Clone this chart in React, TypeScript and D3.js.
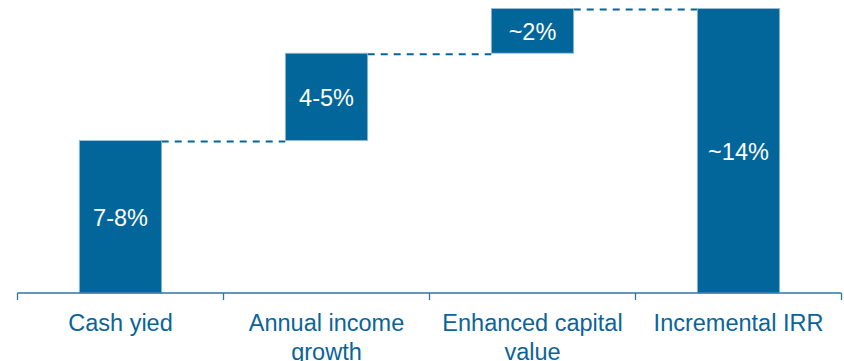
import React, { useEffect, useRef } from "react";
import * as d3 from "d3";

const categories = ["Cash yied", "Annual income growth", "Enhanced capital value", "Incremental IRR"];
const values = [7.5, 4.3, 2.2, 14];
const isTotal = [false, false, false, true];
const barLabels = ["7-8%", "4-5%", "~2%", "~14%"];
const yDomain = [0, 14];

const W = 844;
const H = 361;
const BLUE = "#02669a";

export default function App() {
  const ref = useRef<SVGSVGElement | null>(null);

  useEffect(() => {
    const svg = d3.select(ref.current);
    svg.selectAll("*").remove();

    const left = 17.5;
    const right = 841.5;
    const axisY = 293;
    const top = 8.5;

    const outer = d3.scaleBand<string>().domain(categories).range([left, right]).padding(0);
    const x = d3
      .scaleBand<string>()
      .domain(categories)
      .range([left, right])
      .paddingInner(0.6)
      .paddingOuter(0.3);
    const y = d3.scaleLinear().domain(yDomain).range([axisY, top]);

    let acc = 0;
    const bars = categories.map((c, i) => {
      let y0: number, y1: number;
      if (isTotal[i]) {
        y0 = 0;
        y1 = values[i];
        acc = values[i];
      } else {
        y0 = acc;
        y1 = acc + values[i];
        acc = y1;
      }
      return { c, y0, y1, label: barLabels[i] };
    });

    const g = svg.append("g");
    bars.forEach((b, i) => {
      if (i === bars.length - 1) return;
      const nb = bars[i + 1];
      const level = b.y1;
      g.append("line")
        .attr("x1", (x(b.c) as number) + x.bandwidth())
        .attr("x2", x(nb.c) as number)
        .attr("y1", y(level) + 1)
        .attr("y2", y(level) + 1)
        .attr("stroke", BLUE)
        .attr("stroke-width", 2)
        .attr("stroke-dasharray", "7,6");
    });

    g.selectAll("rect.bar")
      .data(bars)
      .join("rect")
      .attr("class", "bar")
      .attr("x", (d) => x(d.c) as number)
      .attr("width", x.bandwidth())
      .attr("y", (d) => y(d.y1))
      .attr("height", (d) => y(d.y0) - y(d.y1))
      .attr("fill", BLUE)
      .attr("stroke", "#9cc0d6")
      .attr("stroke-width", 0.8);

    g.selectAll("text.blabel")
      .data(bars)
      .join("text")
      .attr("class", "blabel")
      .attr("x", (d) => (x(d.c) as number) + x.bandwidth() / 2)
      .attr("y", (d) => (y(d.y0) + y(d.y1)) / 2 + 1)
      .attr("dy", "0.35em")
      .attr("text-anchor", "middle")
      .attr("fill", "#ffffff")
      .attr("font-family", "Liberation Sans, Arial, sans-serif")
      .attr("font-size", 23.5)
      .text((d) => d.label);

    const axisColor = "#2a79a8";
    g.append("line")
      .attr("x1", left)
      .attr("x2", right)
      .attr("y1", axisY)
      .attr("y2", axisY)
      .attr("stroke", axisColor)
      .attr("stroke-width", 1.3);
    const tickXs = categories.map((c) => outer(c) as number).concat([right]);
    g.selectAll("line.tick")
      .data(tickXs)
      .join("line")
      .attr("class", "tick")
      .attr("x1", (d) => d)
      .attr("x2", (d) => d)
      .attr("y1", axisY)
      .attr("y2", axisY + 7)
      .attr("stroke", axisColor)
      .attr("stroke-width", 1.3);

    const maxW = outer.bandwidth() - 8;
    categories.forEach((c) => {
      const cx = (outer(c) as number) + outer.bandwidth() / 2;
      const t = g
        .append("text")
        .attr("x", cx)
        .attr("y", 330.5)
        .attr("text-anchor", "middle")
        .attr("fill", "#0a649a")
        .attr("font-family", "Liberation Sans, Arial, sans-serif")
        .attr("font-size", 23.5);
      const words = c.split(" ");
      let line: string[] = [];
      let tspan = t.append("tspan").attr("x", cx).attr("dy", 0);
      words.forEach((w) => {
        line.push(w);
        tspan.text(line.join(" "));
        const node = tspan.node() as SVGTextContentElement;
        if (node.getComputedTextLength() > maxW && line.length > 1) {
          line.pop();
          tspan.text(line.join(" "));
          line = [w];
          tspan = t.append("tspan").attr("x", cx).attr("dy", 29).text(w);
        }
      });
    });
  }, []);

  return (
    <svg
      ref={ref}
      width={W}
      height={H}
      style={{ position: "absolute", left: 0, top: 0, background: "#fff" }}
    />
  );
}
